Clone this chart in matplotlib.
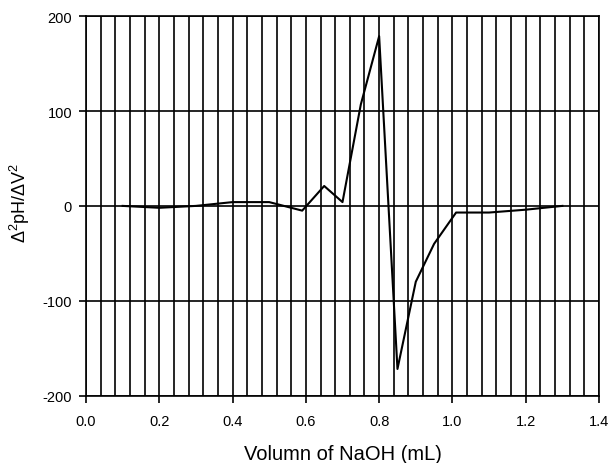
import matplotlib
matplotlib.use("Agg")
import matplotlib.pyplot as plt
import numpy as np

plt.rcParams['font.family'] = ['Liberation Sans', 'DejaVu Sans']
plt.rcParams['axes.unicode_minus'] = False
plt.rcParams['mathtext.fontset'] = 'custom'
plt.rcParams['mathtext.rm'] = 'Liberation Sans'
plt.rcParams['mathtext.it'] = 'Liberation Sans'
plt.rcParams['mathtext.default'] = 'regular'

volume = [0.1, 0.2, 0.3, 0.4, 0.5, 0.59, 0.65, 0.7, 0.75, 0.8, 0.85, 0.9, 0.95, 1.01, 1.1, 1.2, 1.3]
d2ph = [0, -2, 0, 4, 4, -5, 21, 4, 107, 179, -172, -80, -40, -7, -7, -4, 0]

x_ticks = [0.0, 0.2, 0.4, 0.6, 0.8, 1.0, 1.2, 1.4]
x_labels = ["0.0", "0.2", "0.4", "0.6", "0.8", "1.0", "1.2", "1.4"]
y_ticks = [-200, -100, 0, 100, 200]
y_labels = ["-200", "-100", "0", "100", "200"]
x_minor_step = 0.04

W, H = 613, 464
fig = plt.figure(figsize=(W / 100, H / 100), dpi=100)
left, right, top, bottom = 86, 599, 17.3, 396.5
ax = fig.add_axes([left / W, 1 - bottom / H, (right - left) / W, (bottom - top) / H])

# vertical minor gridlines and horizontal major gridlines
for xv in np.arange(0, 1.4 + 1e-9, x_minor_step):
    ax.axvline(xv, color='black', lw=1.2, zorder=1)
for yv in y_ticks:
    ax.axhline(yv, color='black', lw=1.2, zorder=1)

ax.plot(volume, d2ph, color='black', lw=1.5, zorder=3)

ax.set_xlim(0, 1.4)
ax.set_ylim(-200, 200)
ax.set_xticks(x_ticks)
ax.set_xticklabels(x_labels)
ax.set_yticks(y_ticks)
ax.set_yticklabels(y_labels)
ax.tick_params(direction='out', length=5, width=1.2, labelsize=10.5, colors='black')
ax.tick_params(axis='x', pad=8)
ax.tick_params(axis='y', pad=5)
for s in ax.spines.values():
    s.set_linewidth(1.2)

fig.text((left + right) / 2 / W, 1 - 460 / H, "Volumn of NaOH (mL)",
         fontsize=14.5, ha='center', va='baseline')
fig.text(20 / W, 1 - 203 / H, r"$\Delta^{2}$pH/$\Delta$V$^{2}$",
         fontsize=13, rotation=90, ha='center', va='center')

fig.savefig("out.png", dpi=100)
